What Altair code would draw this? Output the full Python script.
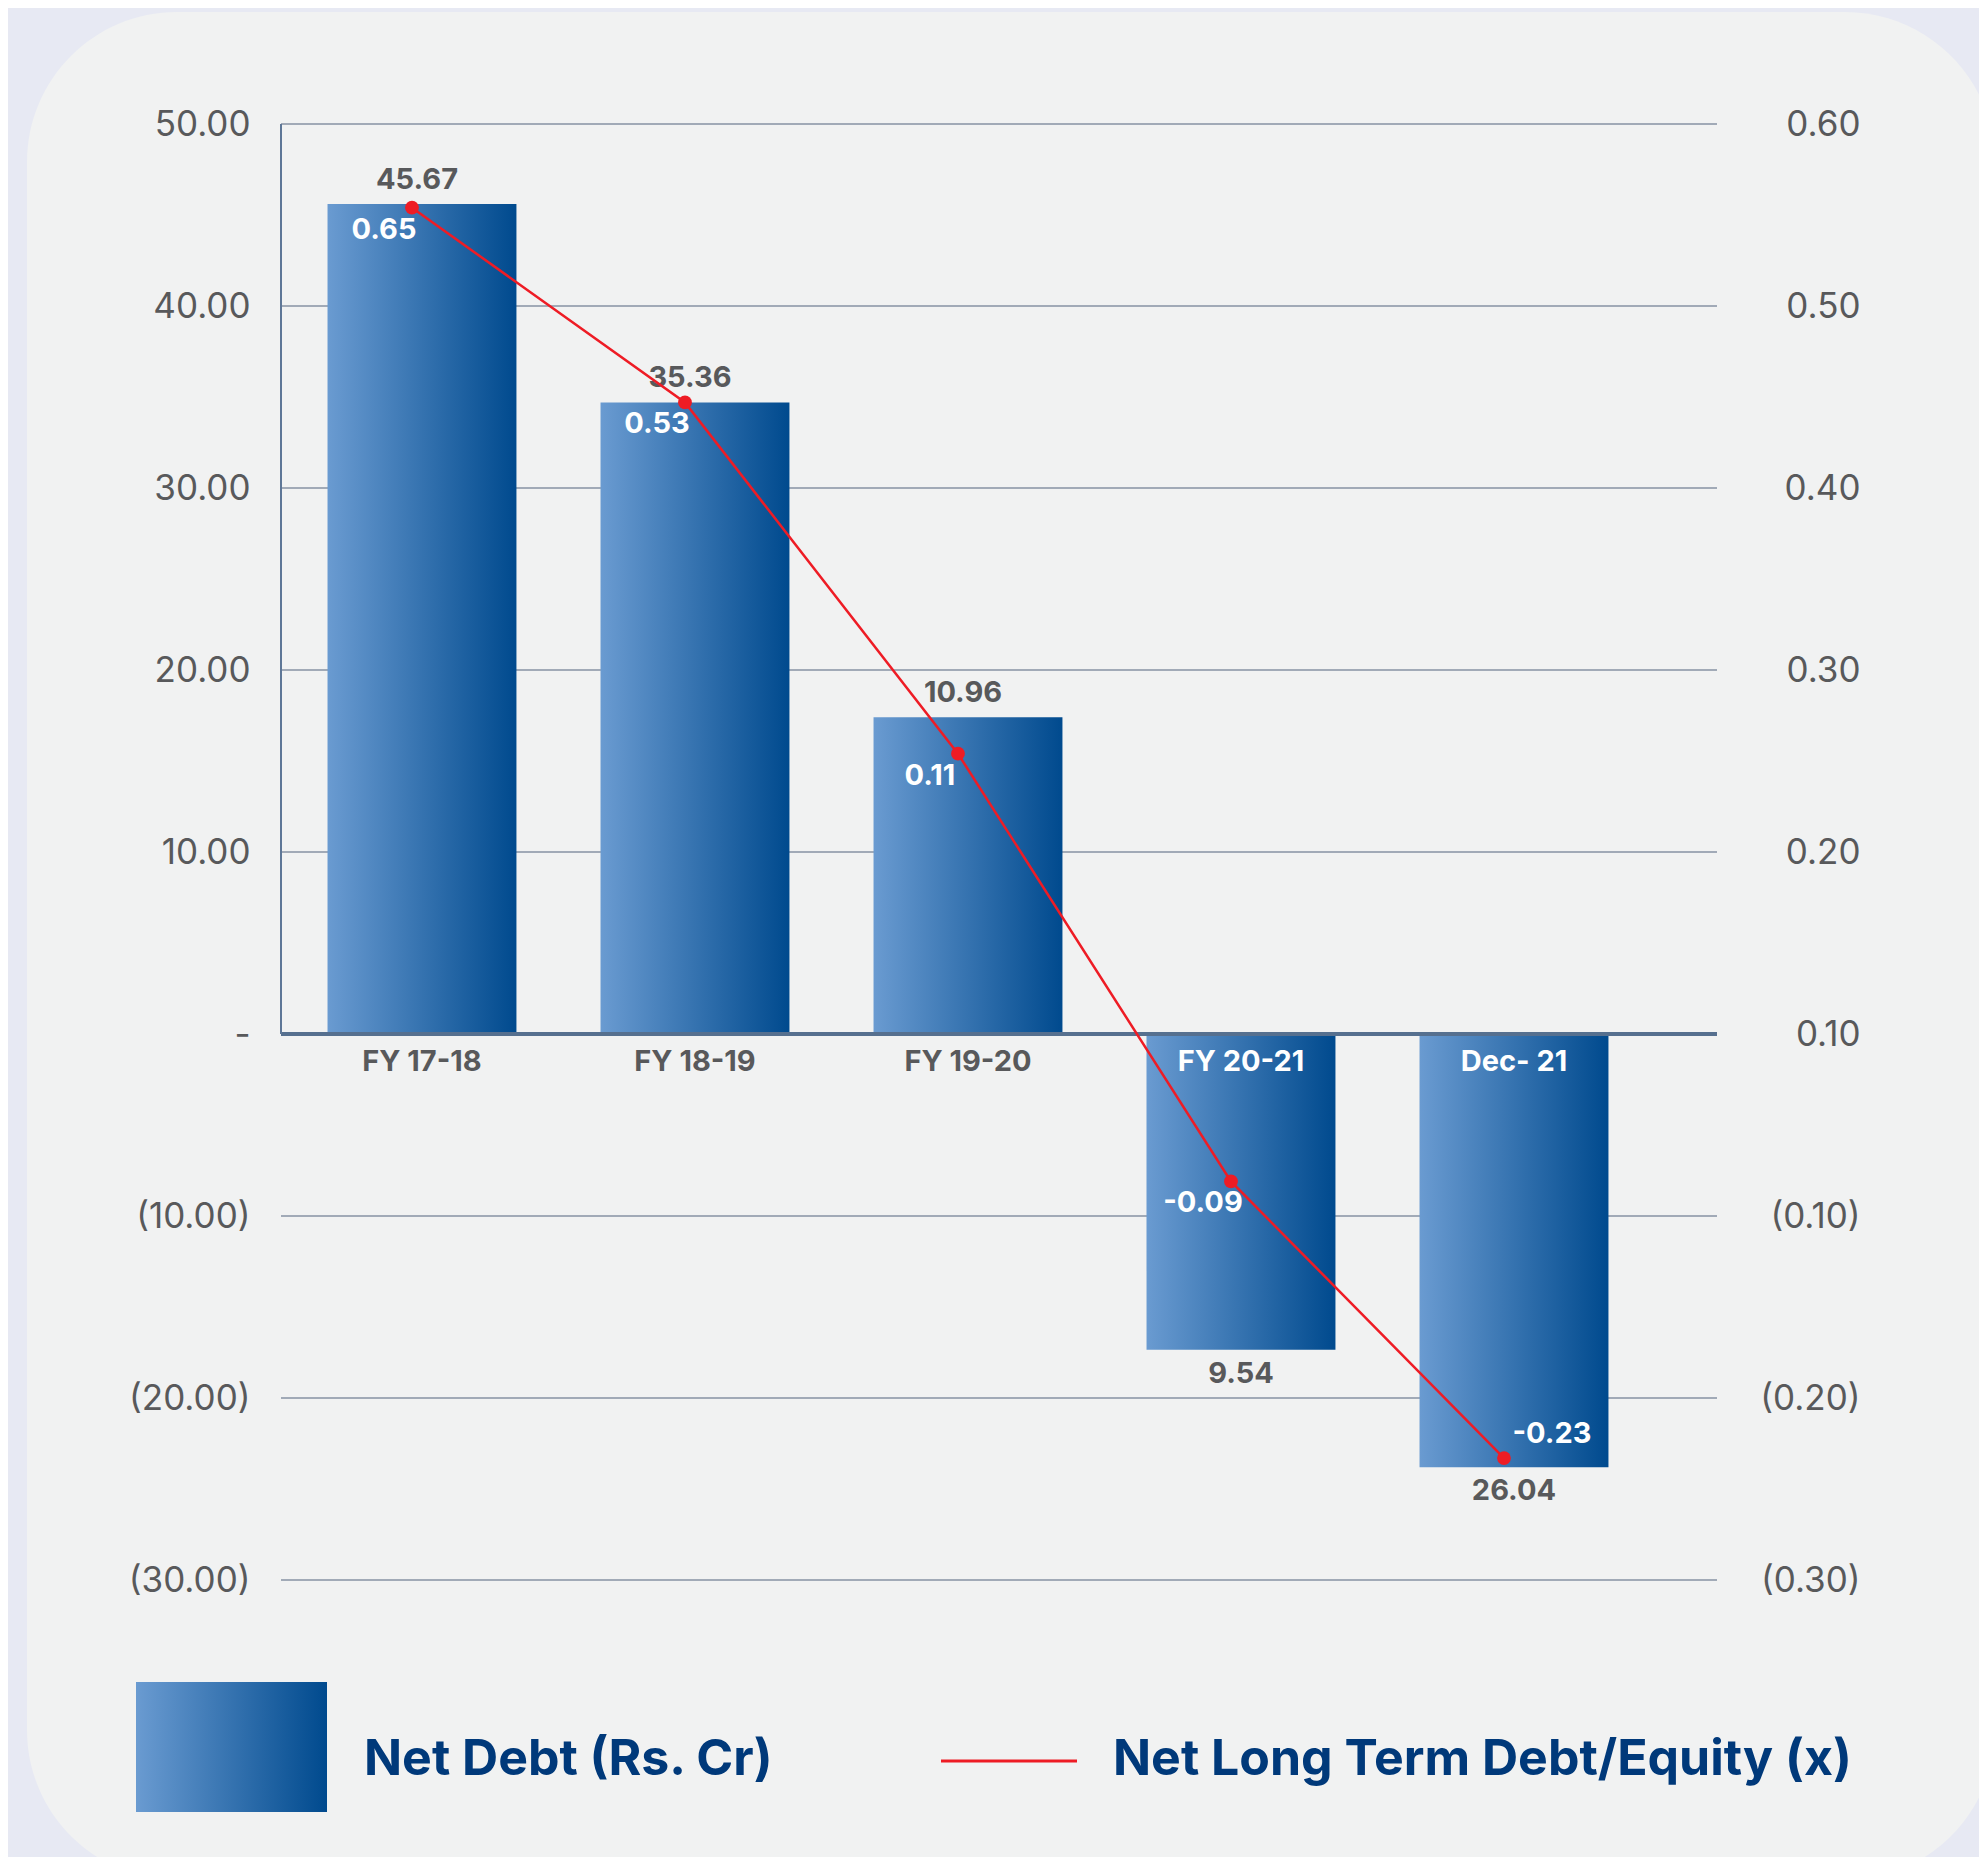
import altair as alt
import pandas as pd

# ---------------- data ----------------
categories = ["FY 17-18", "FY 18-19", "FY 19-20", "FY 20-21", "Dec- 21"]
net_debt = [45.6, 34.7, 17.4, -17.35, -23.8]              # bar heights (left axis)
net_debt_labels = ["45.67", "35.36", "10.96", "9.54", "26.04"]
de_ratio = [0.554, 0.447, 0.254, 0.019, -0.133]          # point heights (right axis)
de_ratio_labels = ["0.65", "0.53", "0.11", "-0.09", "-0.23"]
left_ticks = [50, 40, 30, 20, 10, 0, -10, -20, -30]
right_ticks = [0.6, 0.5, 0.4, 0.3, 0.2, 0.1, 0.0, -0.1, -0.2]
legend_names = ["Net Debt (Rs. Cr)", "Net Long Term Debt/Equity (x)"]

main_df = pd.DataFrame({
    "cat": categories,
    "debt": net_debt,
    "debt_label": net_debt_labels,
    "ratio": de_ratio,
    "ratio_label": de_ratio_labels,
})
grid_df = pd.DataFrame({"tick": left_ticks})
one = pd.DataFrame({"k": [0]})

# ---------------- style ----------------
FONT = "Inter"
W, H = 1436, 1456
LABEL_GRAY = "#58595b"
NAVY = "#00397a"
RED = "#ee1c25"
gradient = alt.Gradient(
    gradient="linear",
    stops=[alt.GradientStop(color="#6a9bd1", offset=0),
           alt.GradientStop(color="#004a8e", offset=1)],
    x1=0, x2=1, y1=0, y2=0,
)

x_scale = alt.Scale(paddingInner=0.308, paddingOuter=0.284, align=0.3)
X = alt.X("cat:N", sort=categories, scale=x_scale, axis=None)
yl_scale = alt.Scale(domain=[-30, 50], nice=False, zero=False)
yr_scale = alt.Scale(domain=[-0.2, 0.6], nice=False, zero=False)

left_axis = alt.Axis(
    orient="left", values=left_ticks, title=None, grid=False, domain=False, ticks=False,
    labelExpr="datum.value > 0 ? format(datum.value, '.2f') : (datum.value == 0 ? '-' : '(' + format(-datum.value, '.2f') + ')')",
    labelFont=FONT, labelFontSize=35, labelColor=LABEL_GRAY, labelPadding=31, zindex=1,
)
right_axis = alt.Axis(
    orient="right", values=right_ticks, title=None, grid=False, domain=False, ticks=False,
    labelExpr="datum.value > 0.05 ? format(datum.value, '.2f') : '(' + format(0.1 - datum.value, '.2f') + ')'",
    labelFont=FONT, labelFontSize=35, labelColor=LABEL_GRAY, labelAlign="right", labelPadding=143,
    zindex=1,
)


def YL(field):
    return alt.Y(field, scale=yl_scale, axis=left_axis)


def YLD(value):
    return alt.YDatum(value, scale=yl_scale, axis=left_axis)


def YR(field):
    return alt.Y(field, scale=yr_scale, axis=right_axis)


# ---------------- left (Net Debt) group ----------------
card = alt.Chart(one).mark_rect(color="#f1f2f2", cornerRadius=150).encode(
    x=alt.value(27 - 281), x2=alt.value(1995 - 281),
    y=alt.value(12 - 124), y2=alt.value(1880 - 124),
)

grid = alt.Chart(grid_df).transform_filter("datum.tick != 0").mark_rule(
    color="#8692a3", strokeWidth=1.5
).encode(y=YL("tick:Q"))

base = alt.Chart(main_df)

bars = base.mark_bar(fill=gradient, strokeWidth=0).encode(x=X, y=YL("debt:Q"))

zero_line = alt.Chart(one).mark_rule(color="#56708f", strokeWidth=4).encode(y=YLD(0))
v_axis_line = alt.Chart(one).mark_rule(color="#5e7797", strokeWidth=2).encode(
    x=alt.value(0), y=YLD(50), y2=alt.Y2Datum(0),
)

txt = dict(font=FONT, fontSize=29, fontWeight="bold", baseline="middle", align="center")
debt_pos = base.transform_filter("datum.debt >= 0").mark_text(color=LABEL_GRAY, dy=-24, dx=-5, **txt).encode(
    x=X, y=YL("debt:Q"), text="debt_label:N"
)
debt_neg = base.transform_filter("datum.debt < 0").mark_text(color=LABEL_GRAY, dy=24, **txt).encode(
    x=X, y=YL("debt:Q"), text="debt_label:N"
)
cat_labels = base.mark_text(dy=28, **txt).encode(
    x=X,
    y=YLD(0),
    text="cat:N",
    color=alt.condition("datum.debt < 0", alt.value("white"), alt.value(LABEL_GRAY)),
)

# legend (decorative, placed below the plot)
leg_swatch = alt.Chart(one).mark_rect(fill=gradient).encode(
    x=alt.value(136 - 281), x2=alt.value(327 - 281),
    y=alt.value(1682 - 124), y2=alt.value(1812 - 124),
)
leg_txt = dict(font=FONT, fontSize=50, fontWeight="bold", color=NAVY, align="left", baseline="middle")
leg_text1 = alt.Chart(one).mark_text(**leg_txt).encode(
    x=alt.value(364 - 281), y=alt.value(1760 - 124), text=alt.value(legend_names[0])
)
leg_line = alt.Chart(one).mark_rule(color=RED, strokeWidth=3).encode(
    x=alt.value(941 - 281), x2=alt.value(1077 - 281), y=alt.value(1761 - 124)
)
leg_text2 = alt.Chart(one).mark_text(**leg_txt).encode(
    x=alt.value(1113 - 281), y=alt.value(1760 - 124), text=alt.value(legend_names[1])
)

left = alt.layer(card, grid, bars, zero_line, v_axis_line, debt_pos, debt_neg, cat_labels,
                 leg_swatch, leg_text1, leg_line, leg_text2)

# ---------------- right (Debt/Equity) group ----------------
line = base.mark_line(color=RED, strokeWidth=2.5, xOffset=-10).encode(x=X, y=YR("ratio:Q"))
points = base.mark_circle(color=RED, size=190, opacity=1, xOffset=-10).encode(x=X, y=YR("ratio:Q"))
ratio_pos = base.transform_filter("datum.ratio >= 0").mark_text(color="white", dx=-38, dy=22, **txt).encode(
    x=X, y=YR("ratio:Q"), text="ratio_label:N"
)
ratio_neg = base.transform_filter("datum.ratio < 0").mark_text(color="white", dx=38, dy=-24, **txt).encode(
    x=X, y=YR("ratio:Q"), text="ratio_label:N"
)
right = alt.layer(line, points, ratio_pos, ratio_neg)

chart = alt.layer(left, right).resolve_scale(y="independent").properties(
    width=W, height=H,
    padding={"left": 273, "top": 116, "right": 262, "bottom": 277},
    autosize=alt.AutoSizeParams(type="none"),
    background="#e7e9f3",
).configure_view(strokeWidth=0)

chart.save("out.html", embed_options={"renderer": "svg", "actions": False})
